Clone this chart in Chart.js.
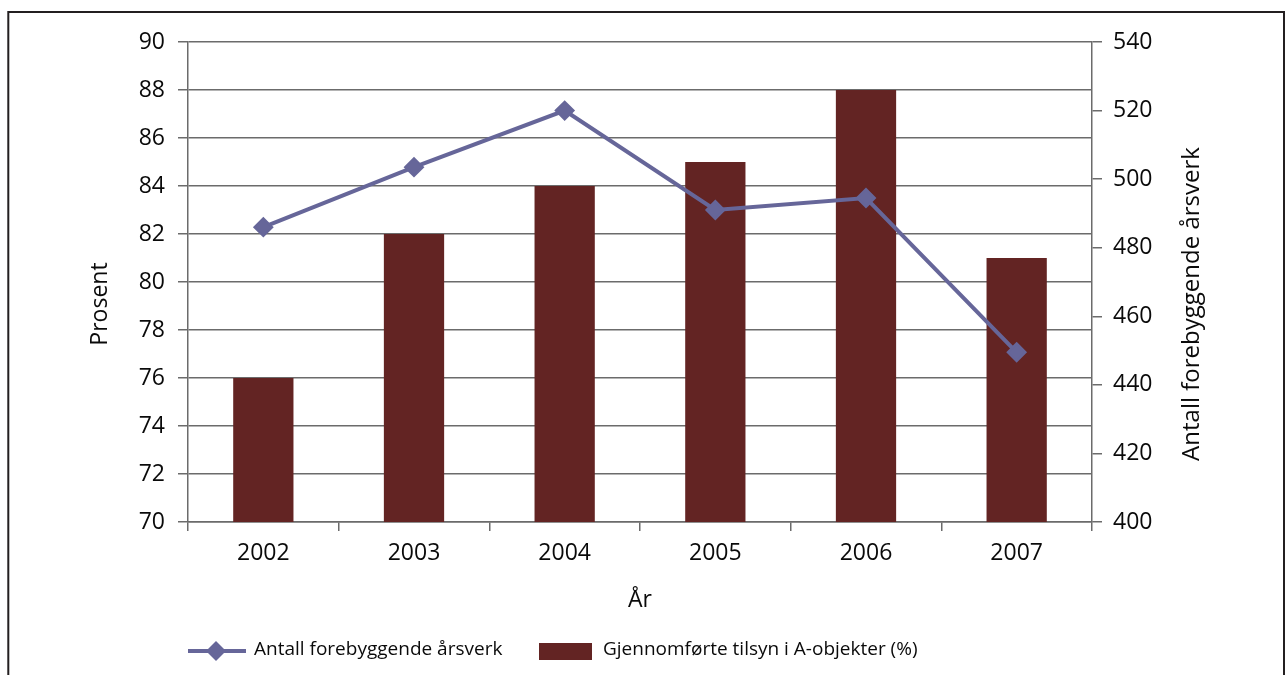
<!DOCTYPE html>
<html>
<head>
<meta charset="utf-8">
<script src="https://cdn.jsdelivr.net/npm/chart.js@4.4.1/dist/chart.umd.min.js"></script>
<style>
  html, body { margin: 0; padding: 0; background: #ffffff; }
  #wrap { position: relative; width: 1285px; height: 675px; }
</style>
</head>
<body>
<div id="wrap"><canvas id="c" width="1285" height="675"></canvas></div>
<script>
// ---- Data ----
const years = ['2002', '2003', '2004', '2005', '2006', '2007'];
const tilsynPct = [76, 82, 84, 85, 88, 81];            // Gjennomførte tilsyn i A-objekter (%)
const aarsverk = [486, 503.5, 520, 491, 494.5, 449.5];  // Antall forebyggende årsverk
const leftAxis = { min: 70, max: 90, step: 2 };
const rightAxis = { min: 400, max: 540, step: 20 };
const labelLine = 'Antall forebyggende årsverk';
const labelBar = 'Gjennomførte tilsyn i A-objekter (%)';
const titleLeft = 'Prosent';
const titleRight = 'Antall forebyggende årsverk';
const titleX = 'År';

const FONT = "'Open Sans', 'Noto Sans', sans-serif";
const LINE_COLOR = '#666699';
const BAR_COLOR = '#632423';
const GRID_COLOR = '#6b6b6b';
const TEXT_COLOR = '#0a0a0a';

const framePlugin = {
  id: 'frameAndExtras',
  afterDraw(chart) {
    const ctx = chart.ctx;
    const ca = chart.chartArea;
    ctx.save();
    // frame
    ctx.strokeStyle = '#231f20';
    ctx.lineWidth = 2;
    ctx.strokeRect(8.3, 12, 1275.7, 700);

    // y axis titles (rotated, reading bottom-to-top)
    ctx.fillStyle = TEXT_COLOR;
    ctx.textAlign = 'center';
    ctx.textBaseline = 'middle';
    const midY = (ca.top + ca.bottom) / 2 + 22;
    ctx.font = '23px ' + FONT;
    ctx.save();
    ctx.translate(ca.left - 88, midY);
    ctx.rotate(-Math.PI / 2);
    ctx.fillText(titleLeft, 0, 0);
    ctx.restore();
    ctx.font = '24px ' + FONT;
    ctx.save();
    ctx.translate(ca.right + 100, midY);
    ctx.rotate(-Math.PI / 2);
    ctx.fillText(titleRight, 0, 0);
    ctx.restore();

    // custom legend
    const ly = 651;
    const x0 = ca.left;
    ctx.strokeStyle = LINE_COLOR;
    ctx.lineWidth = 4;
    ctx.beginPath();
    ctx.moveTo(x0, ly);
    ctx.lineTo(x0 + 58, ly);
    ctx.stroke();
    ctx.fillStyle = LINE_COLOR;
    ctx.beginPath();
    const dx = x0 + 28, r = 10;
    ctx.moveTo(dx, ly - r);
    ctx.lineTo(dx + r, ly);
    ctx.lineTo(dx, ly + r);
    ctx.lineTo(dx - r, ly);
    ctx.closePath();
    ctx.fill();
    ctx.fillStyle = TEXT_COLOR;
    ctx.font = '19px ' + FONT;
    ctx.textAlign = 'left';
    ctx.textBaseline = 'middle';
    ctx.fillText(chart.data.datasets[0].label, x0 + 66, ly - 1);

    const bx = x0 + 351;
    ctx.fillStyle = BAR_COLOR;
    ctx.fillRect(bx, 643, 53, 17);
    ctx.fillStyle = TEXT_COLOR;
    ctx.fillText(chart.data.datasets[1].label, bx + 64, ly - 1);
    ctx.restore();
  }
};

new Chart(document.getElementById('c'), {
  data: {
    labels: years,
    datasets: [
      {
        type: 'line',
        label: labelLine,
        data: aarsverk,
        yAxisID: 'y1',
        borderColor: LINE_COLOR,
        backgroundColor: LINE_COLOR,
        borderWidth: 4,
        pointStyle: 'rectRot',
        pointRadius: 9,
        pointBorderWidth: 2,
        pointBackgroundColor: LINE_COLOR,
        pointBorderColor: LINE_COLOR,
        tension: 0,
        fill: false
      },
      {
        type: 'bar',
        label: labelBar,
        data: tilsynPct,
        yAxisID: 'y',
        backgroundColor: BAR_COLOR,
        borderWidth: 0,
        barPercentage: 0.4,
        categoryPercentage: 1.0
      }
    ]
  },
  options: {
    responsive: false,
    animation: false,
    layout: { padding: { top: 42, left: 0, right: 0, bottom: 60 } },
    plugins: {
      legend: { display: false },
      tooltip: { enabled: false }
    },
    scales: {
      x: {
        offset: true,
        grid: {
          offset: true,
          drawOnChartArea: false,
          drawTicks: true,
          tickLength: 9,
          color: GRID_COLOR,
          lineWidth: 1.5
        },
        border: { color: GRID_COLOR, width: 1.5 },
        ticks: { color: TEXT_COLOR, font: { family: FONT, size: 23 }, padding: 9 },
        title: {
          display: true,
          text: titleX,
          color: TEXT_COLOR,
          font: { family: FONT, size: 23 },
          padding: { top: 0, bottom: 1 }
        },
        afterFit(scale) { scale.height = 93; }
      },
      y: {
        position: 'left',
        min: leftAxis.min,
        max: leftAxis.max,
        ticks: { stepSize: leftAxis.step, color: TEXT_COLOR, font: { family: FONT, size: 23 }, padding: 13 },
        grid: { color: GRID_COLOR, lineWidth: 1.5, tickLength: 10, drawTicks: true },
        border: { color: GRID_COLOR, width: 1.5 },
        afterFit(scale) { scale.width = 188; }
      },
      y1: {
        position: 'right',
        min: rightAxis.min,
        max: rightAxis.max,
        ticks: { stepSize: rightAxis.step, color: TEXT_COLOR, font: { family: FONT, size: 23 }, padding: 11 },
        grid: { drawOnChartArea: false, color: GRID_COLOR, lineWidth: 1.5, tickLength: 10, drawTicks: true },
        border: { color: GRID_COLOR, width: 1.5 },
        afterFit(scale) { scale.width = 193; }
      }
    }
  },
  plugins: [framePlugin]
});
</script>
</body>
</html>
